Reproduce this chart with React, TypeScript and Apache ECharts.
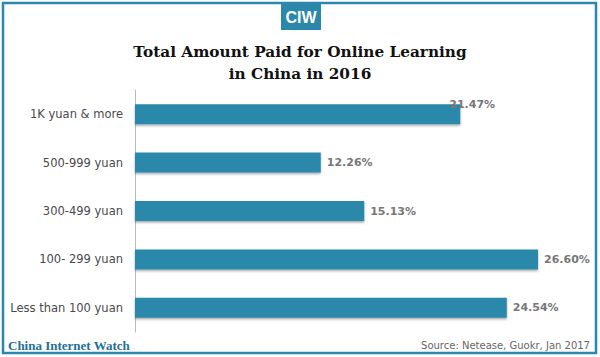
import React, { useEffect, useRef } from "react";
import * as echarts from "echarts";

const categories = ["1K yuan & more", "500-999 yuan", "300-499 yuan", "100- 299 yuan", "Less than 100 yuan"];
const values = [21.47, 12.26, 15.13, 26.6, 24.54];
const titleText = "Total Amount Paid for Online Learning\nin China in 2016";
const sourceText = "Source: Netease, Guokr, Jan 2017";
const brandText = "China Internet Watch";
const logoText = "CIW";

const BLUE = "#2b88aa";

export default function App() {
  const ref = useRef<HTMLDivElement>(null);
  useEffect(() => {
    if (!ref.current) return;
    const chart = echarts.init(ref.current, null, { renderer: "svg" });
    chart.setOption({
      animation: false,
      backgroundColor: "#ffffff",
      title: {
        text: titleText,
        left: "center",
        top: 36,
        textStyle: {
          fontFamily: "DejaVu Serif",
          fontWeight: "bold",
          fontSize: 15.3,
          lineHeight: 22,
          color: "#111",
        },
      },
      grid: { left: 135, right: 10.5, top: 90, bottom: 25 },
      xAxis: {
        type: "value",
        min: 0,
        max: 30,
        show: false,
      },
      yAxis: {
        type: "category",
        data: categories,
        inverse: true,
        axisLine: { show: true, lineStyle: { color: "#bbbbbb", width: 1 } },
        axisTick: { show: false },
        axisLabel: {
          color: "#4a4a4a",
          fontFamily: "DejaVu Sans",
          fontSize: 11.5,
          margin: 12,
        },
      },
      series: [
        {
          type: "bar",
          barWidth: 20,
          data: values.map((v, i) =>
            i === 0
              ? { value: v, label: { offset: [-17, -10] } }
              : { value: v }
          ),
          itemStyle: {
            color: BLUE,
            shadowColor: "rgba(0,0,0,0.35)",
            shadowBlur: 2,
            shadowOffsetY: 1.5,
          },
          label: {
            show: true,
            position: "right",
            distance: 6,
            formatter: (p: any) => p.value.toFixed(2) + "%",
            color: "#777",
            fontWeight: "bold",
            fontFamily: "DejaVu Sans",
            fontSize: 11,
          },
        },
      ],
      graphic: [
        {
          type: "rect",
          shape: { x: 3, y: 3, width: 593, height: 350 },
          style: { fill: "none", stroke: BLUE, lineWidth: 2.5 },
          silent: true,
        },
        {
          type: "rect",
          shape: { x: 281, y: 2, width: 40, height: 28 },
          style: { fill: BLUE },
          silent: true,
        },
        {
          type: "text",
          x: 301,
          y: 17,
          style: {
            text: logoText,
            fill: "#ffffff",
            fontFamily: "Liberation Sans Narrow, Liberation Sans",
            fontWeight: "bold",
            fontSize: 16,
            align: "center",
            verticalAlign: "middle",
          },
        },
        {
          type: "text",
          x: 8,
          y: 345,
          style: {
            text: brandText,
            fill: "#1f6f98",
            fontFamily: "Liberation Serif",
            fontWeight: "bold",
            fontSize: 13,
            align: "left",
            verticalAlign: "middle",
          },
        },
        {
          type: "text",
          x: 590,
          y: 345,
          style: {
            text: sourceText,
            fill: "#666",
            fontFamily: "DejaVu Sans",
            fontSize: 10,
            align: "right",
            verticalAlign: "middle",
          },
        },
      ],
    });
    return () => chart.dispose();
  }, []);
  return <div ref={ref} style={{ width: 600, height: 357, position: "absolute", left: 0, top: 0 }} />;
}
